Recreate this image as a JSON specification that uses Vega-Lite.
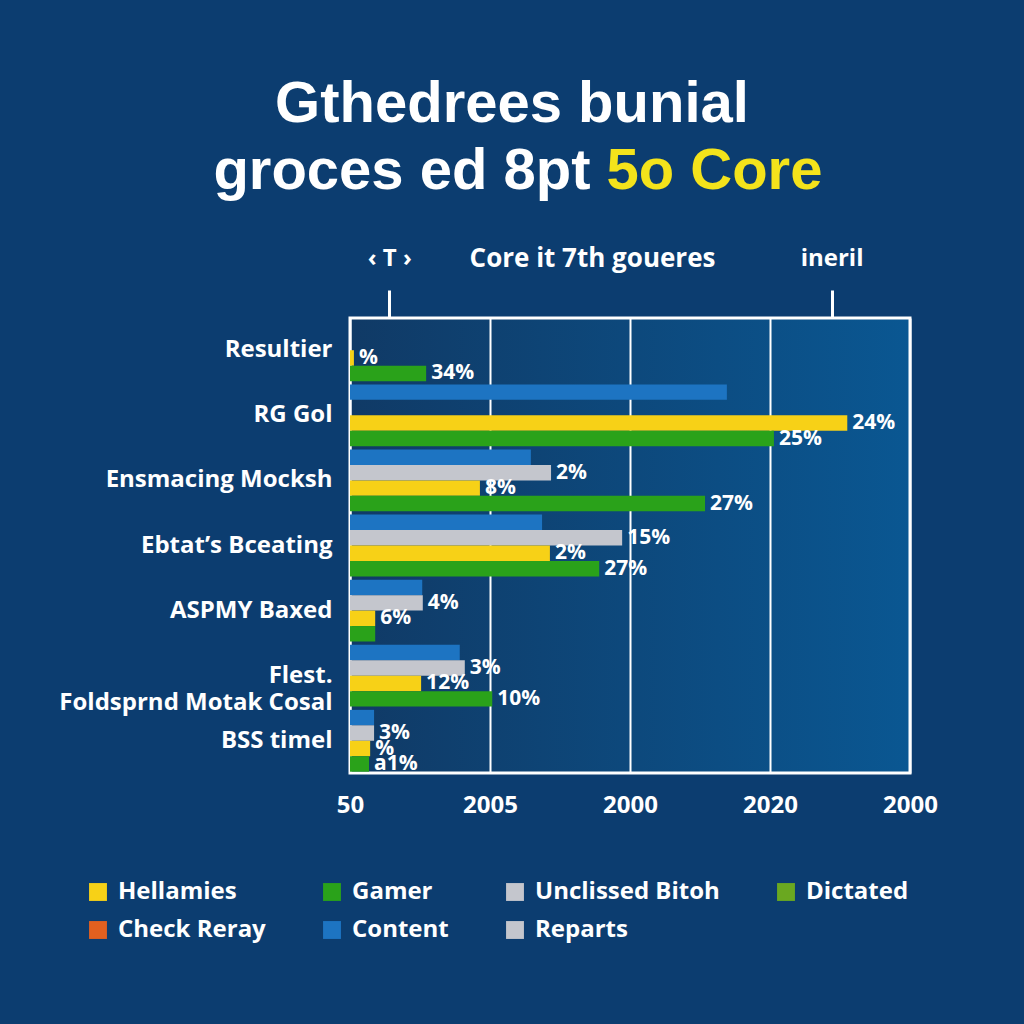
{
  "$schema": "https://vega.github.io/schema/vega-lite/v6.json",
  "width": 560,
  "height": 455,
  "autosize": {"type": "none"},
  "padding": {"left": 350, "top": 318, "right": 114, "bottom": 251},
  "background": "#0c3d70",
  "title": {"text": "Gthedrees bunial", "anchor": "middle", "frame": "group", "dx": -118, "fontSize": 58, "font": "Liberation Sans", "fontWeight": "bold", "color": "white", "offset": 8},
  "data": {"values": [
    {"group": "Resultier", "series": "Hellamies", "value": 0.7, "label": "%"},
    {"group": "Resultier", "series": "Gamer", "value": 13.6, "label": "34%"},
    {"group": "RG Gol", "series": "Content", "value": 67.3, "label": ""},
    {"group": "RG Gol", "series": "Hellamies", "value": 88.8, "label": "24%"},
    {"group": "RG Gol", "series": "Gamer", "value": 75.7, "label": "25%"},
    {"group": "Ensmacing Mocksh", "series": "Content", "value": 32.3, "label": ""},
    {"group": "Ensmacing Mocksh", "series": "Unclissed Bitoh", "value": 35.9, "label": "2%"},
    {"group": "Ensmacing Mocksh", "series": "Hellamies", "value": 23.2, "label": "8%"},
    {"group": "Ensmacing Mocksh", "series": "Gamer", "value": 63.4, "label": "27%"},
    {"group": "Ebtat’s Bceating", "series": "Content", "value": 34.3, "label": ""},
    {"group": "Ebtat’s Bceating", "series": "Unclissed Bitoh", "value": 48.6, "label": "15%"},
    {"group": "Ebtat’s Bceating", "series": "Hellamies", "value": 35.7, "label": "2%"},
    {"group": "Ebtat’s Bceating", "series": "Gamer", "value": 44.5, "label": "27%"},
    {"group": "ASPMY Baxed", "series": "Content", "value": 12.9, "label": ""},
    {"group": "ASPMY Baxed", "series": "Unclissed Bitoh", "value": 13.0, "label": "4%"},
    {"group": "ASPMY Baxed", "series": "Hellamies", "value": 4.5, "label": "6%"},
    {"group": "ASPMY Baxed", "series": "Gamer", "value": 4.5, "label": ""},
    {"group": "Flest.|Foldsprnd  Motak Cosal", "series": "Content", "value": 19.6, "label": ""},
    {"group": "Flest.|Foldsprnd  Motak Cosal", "series": "Unclissed Bitoh", "value": 20.5, "label": "3%"},
    {"group": "Flest.|Foldsprnd  Motak Cosal", "series": "Hellamies", "value": 12.7, "label": "12%"},
    {"group": "Flest.|Foldsprnd  Motak Cosal", "series": "Gamer", "value": 25.4, "label": "10%"},
    {"group": "BSS timel", "series": "Content", "value": 4.3, "label": ""},
    {"group": "BSS timel", "series": "Unclissed Bitoh", "value": 4.3, "label": "3%"},
    {"group": "BSS timel", "series": "Hellamies", "value": 3.6, "label": "%"},
    {"group": "BSS timel", "series": "Gamer", "value": 3.4, "label": "a1%"}
  ]},
  "layer": [
    {
      "mark": {"type": "bar"},
      "encoding": {
        "y": {"field": "group", "type": "nominal",
          "sort": ["Resultier", "RG Gol", "Ensmacing Mocksh", "Ebtat’s Bceating", "ASPMY Baxed", "Flest.|Foldsprnd  Motak Cosal", "BSS timel"],
          "scale": {"paddingInner": 0.05, "paddingOuter": 0.02},
          "axis": {"orient": "left", "labelExpr": "split(datum.label, '|')", "labelLineHeight": 27, "ticks": false, "domain": false, "grid": false, "labelPadding": 18, "labelLimit": 400, "labelFontSize": 24, "labelFont": "Open Sans", "labelFontWeight": "bold", "labelColor": "white",
            "title": "groces ed 8pt", "titleAngle": 0, "titleX": 240, "titleY": -130, "titleAlign": "right", "titleBaseline": "alphabetic", "titleFontSize": 58, "titleFont": "Liberation Sans", "titleFontWeight": "bold", "titleColor": "white"}},
        "yOffset": {"field": "series", "type": "nominal", "scale": {"domain": ["Content", "Unclissed Bitoh", "Hellamies", "Gamer"], "paddingInner": 0, "paddingOuter": 0}},
        "x": {"field": "value", "type": "quantitative", "scale": {"domain": [0, 100], "nice": false},
          "axis": {"orient": "bottom", "values": [0, 25, 50, 75, 100], "labelExpr": "datum.value == 0 ? '50' : datum.value == 25 ? '2005' : datum.value == 50 ? '2000' : datum.value == 75 ? '2020' : '2000'", "grid": true, "gridColor": "white", "gridWidth": 2, "gridOpacity": 1, "domain": false, "ticks": false, "labelPadding": 20, "labelFlush": false, "labelFontSize": 24, "labelFont": "Open Sans", "labelFontWeight": "bold", "labelColor": "white", "title": null}},
        "color": {"field": "series", "type": "nominal",
          "scale": {"domain": ["Hellamies", "Gamer", "Unclissed Bitoh", "Dictated", "Check Reray", "Content", "Reparts"],
            "range": ["#f7d117", "#2aa21a", "#c4c6cd", "#6aa820", "#e2601f", "#1d74c2", "#c4c6cd"]},
          "legend": {"orient": "none", "legendX": -264, "legendY": 562, "direction": "horizontal", "columns": 4, "title": null, "symbolType": "square", "symbolSize": 320, "symbolStrokeWidth": 0, "labelFontSize": 24, "labelColor": "white", "labelFont": "Open Sans", "labelFontWeight": "bold", "columnPadding": 54, "rowPadding": 14, "labelOffset": 8, "labelLimit": 300}}
      }
    },
    {
      "transform": [{"filter": "datum.label != ''"}],
      "mark": {"type": "text", "align": "left", "baseline": "middle", "dx": 5, "fontSize": 21, "fontWeight": "bold", "font": "Open Sans", "color": "white"},
      "encoding": {
        "y": {"field": "group", "type": "nominal",
          "sort": ["Resultier", "RG Gol", "Ensmacing Mocksh", "Ebtat’s Bceating", "ASPMY Baxed", "Flest.|Foldsprnd  Motak Cosal", "BSS timel"],
          "axis": {"orient": "right", "labels": false, "ticks": false, "domain": false, "grid": false,
            "title": "5o Core", "titleAngle": 0, "titleX": -304, "titleY": -130, "titleAlign": "left", "titleBaseline": "alphabetic", "titleFontSize": 58, "titleFont": "Liberation Sans", "titleFontWeight": "bold", "titleColor": "#f4e31b"}},
        "yOffset": {"field": "series", "type": "nominal"},
        "x": {"field": "value", "type": "quantitative",
          "axis": {"orient": "top", "values": [7, 86], "labelExpr": "datum.value < 50 ? '‹ T ›' : 'ineril'", "grid": false, "domain": false, "ticks": true, "tickSize": 28, "tickWidth": 3, "tickColor": "white", "labelPadding": 20, "labelFontSize": 24, "labelFont": "Open Sans", "labelFontWeight": "bold", "labelColor": "white",
            "title": "Core it 7th goueres", "titleX": 242, "titleY": -52, "titleAlign": "center", "titleBaseline": "alphabetic", "titleFontSize": 26, "titleFont": "Open Sans", "titleFontWeight": "bold", "titleColor": "white"}},
        "text": {"field": "label", "type": "nominal"}
      }
    }
  ],
  "resolve": {"axis": {"x": "independent", "y": "independent"}},
  "config": {
    "view": {"stroke": "white", "strokeWidth": 3, "fill": {"gradient": "linear", "x1": 0, "y1": 0, "x2": 1, "y2": 0, "stops": [{"offset": 0, "color": "#103a66"}, {"offset": 1, "color": "#0a5792"}]}}
  }
}
